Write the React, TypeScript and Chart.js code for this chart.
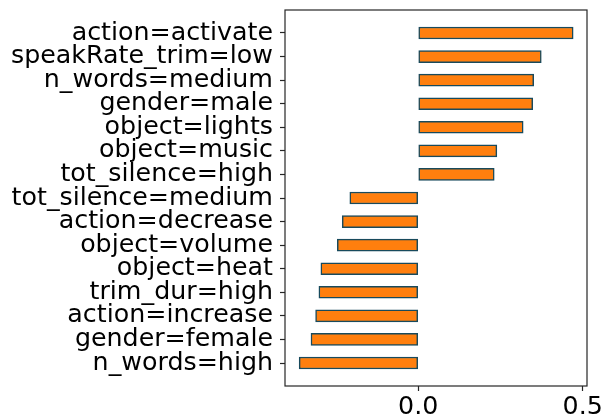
import React, { useEffect, useRef } from "react";
import { Chart, registerables } from "chart.js";

Chart.register(...registerables);

const categories = [
  "action=activate",
  "speakRate_trim=low",
  "n_words=medium",
  "gender=male",
  "object=lights",
  "object=music",
  "tot_silence=high",
  "tot_silence=medium",
  "action=decrease",
  "object=volume",
  "object=heat",
  "trim_dur=high",
  "action=increase",
  "gender=female",
  "n_words=high",
];

const values = [
  0.471, 0.374, 0.351, 0.348, 0.319, 0.239, 0.231,
  -0.208, -0.231, -0.246, -0.296, -0.302, -0.312, -0.326, -0.362,
];

const xTicks = [0.0, 0.5];

const FONT = "'DejaVu Sans', sans-serif";

const framePlugin = {
  id: "frame",
  afterDraw(chart: any) {
    const { ctx, chartArea } = chart;
    ctx.save();
    ctx.strokeStyle = "#262626";
    ctx.lineWidth = 1.2;
    ctx.strokeRect(chartArea.left, chartArea.top, chartArea.right - chartArea.left, chartArea.bottom - chartArea.top);
    ctx.restore();
  },
};

export default function App() {
  const ref = useRef<HTMLCanvasElement>(null);
  useEffect(() => {
    document.body.style.margin = "0";
    const data = values.map((v, i) => ({ x: v, y: i }));
    const chart = new Chart(ref.current!, {
      type: "bar",
      data: {
        datasets: [
          {
            data: data as any,
            backgroundColor: "#ff7f0e",
            borderColor: "#184a5c",
            borderWidth: 1.5,
            borderSkipped: false,
            barThickness: 12,
          },
        ],
      },
      options: {
        indexAxis: "y",
        animation: false,
        responsive: false,
        layout: { padding: { left: 0, right: 18, top: 10, bottom: 0 } },
        plugins: { legend: { display: false }, tooltip: { enabled: false } },
        scales: {
          x: {
            type: "linear",
            min: -0.405,
            max: 0.513,
            afterBuildTicks: (s: any) => {
              s.ticks = xTicks.map((v) => ({ value: v }));
            },
            afterFit: (s: any) => {
              s.height = 34;
              s.paddingLeft = 0;
              s.paddingRight = 0;
            },
            ticks: {
              callback: (v: any) => Number(v).toFixed(1),
              color: "#000",
              font: { family: FONT, size: 25.3 },
              padding: 1,
              maxRotation: 0,
            },
            grid: { drawOnChartArea: false, offset: false, tickLength: 5, tickColor: "#262626", tickWidth: 1.2 },
            border: { display: false },
          },
          y: {
            type: "linear",
            reverse: true,
            offset: false,
            min: -0.975,
            max: 14.975,
            afterBuildTicks: (s: any) => {
              s.ticks = categories.map((_, i) => ({ value: i }));
            },
            afterFit: (s: any) => {
              s.width = 285;
              s.paddingTop = 0;
              s.paddingBottom = 0;
            },
            ticks: {
              callback: (v: any) => categories[v as number],
              color: "#000",
              font: { family: FONT, size: 25.3 },
              padding: 7,
              autoSkip: false,
            },
            grid: { drawOnChartArea: false, offset: false, tickLength: 5, tickColor: "#262626", tickWidth: 1.2 },
            border: { display: false },
          },
        },
      },
      plugins: [framePlugin],
    });
    return () => chart.destroy();
  }, []);
  return (
    <div style={{ width: 605, height: 420 }}>
      <canvas ref={ref} width={605} height={420} style={{ display: "block" }} />
    </div>
  );
}
